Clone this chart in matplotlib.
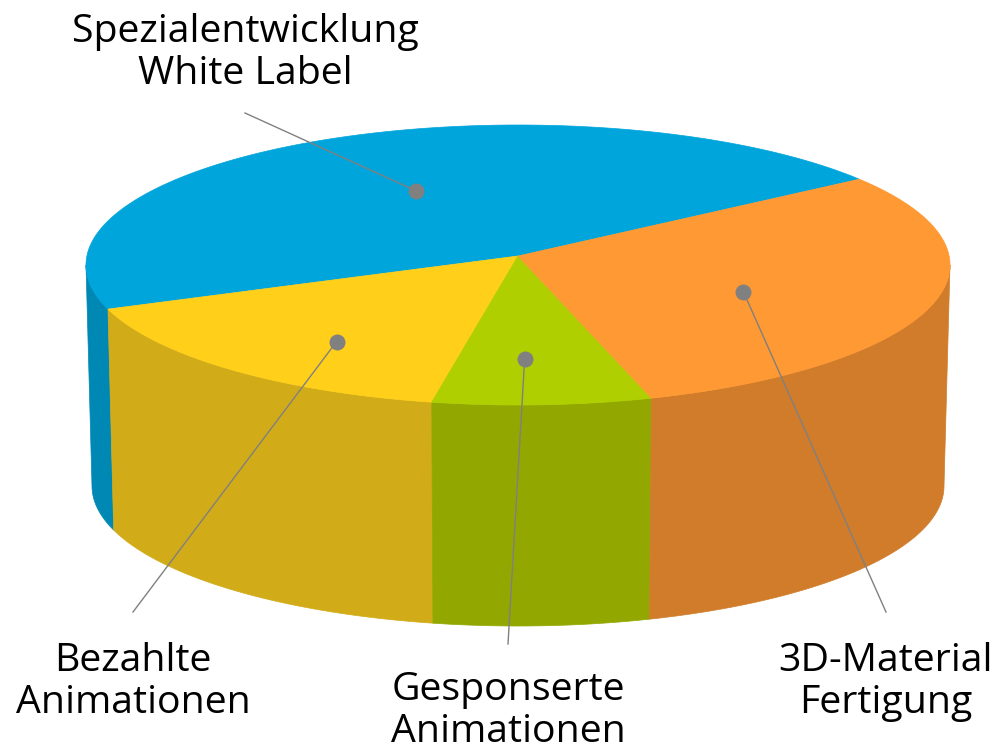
import numpy as np
import matplotlib.pyplot as plt

# Share of each slice, going counter-clockwise from the start angle
labels = ["Spezialentwicklung\nWhite Label", "Bezahlte\nAnimationen",
          "Gesponserte\nAnimationen", "3D-Material\nFertigung"]
values = [44.6, 16.7, 8.2, 30.5]

top_colors = ["#00A5DC", "#FFCF1A", "#AFCF00", "#FF9933"]
side_colors = ["#0088B5", "#D2AB18", "#92A800", "#D07C2A"]

# Where the dots sit on the top face (angle in degrees, fraction of radius)
dot_angle = [114, 232.5, 271.3, 340]
dot_radius = [0.58, 0.69, 0.675, 0.555]
# Free end of each leader line and centre of each label, in pixels
line_end = [(245, 113), (133, 612), (508, 644), (886, 612)]
label_pos = [(245, 53), (133, 682), (508, 711), (886, 682)]

start_angle = 37.8

# Disc geometry in pixels
TOP = (518, 265, 432, 140)
BOTTOM = (518, 486, 426, 140)
APEX = (518, 256)


def arc(ellipse, a0, a1):
    cx, cy, rx, ry = ellipse
    t = np.radians(np.linspace(a0, a1, 200))
    return cx + rx * np.cos(t), cy - ry * np.sin(t)


fig = plt.figure(figsize=(9.96, 7.53), dpi=100)
ax = fig.add_axes([0, 0, 1, 1])
ax.set_xlim(0, 996)
ax.set_ylim(753, 0)
ax.axis("off")

edges = start_angle + np.cumsum([0] + values) * 360 / sum(values)

# Sides first, only the front half of the disc can be seen
for i in range(len(values)):
    a0 = max(edges[i], 180)
    a1 = min(edges[i + 1], 360)
    if a1 <= a0:
        continue
    xt, yt = arc(TOP, a0, a1)
    xb, yb = arc(BOTTOM, a0, a1)
    ax.fill(np.r_[xt, xb[::-1]], np.r_[yt, yb[::-1]], color=side_colors[i], lw=0.5, zorder=1)

# Top face
for i in range(len(values)):
    x, y = arc(TOP, edges[i], edges[i + 1])
    ax.fill(np.r_[APEX[0], x], np.r_[APEX[1], y], color=top_colors[i], lw=0.5, zorder=2)

# Leader lines, dots and labels
for i in range(len(labels)):
    t = np.radians(dot_angle[i])
    dx = TOP[0] + TOP[2] * dot_radius[i] * np.cos(t)
    dy = TOP[1] - TOP[3] * dot_radius[i] * np.sin(t)
    ax.plot([dx, line_end[i][0]], [dy, line_end[i][1]], color="#808080", lw=1, zorder=3)
    ax.plot(dx, dy, "o", color="#808080", ms=11.5, mew=0, zorder=4)
    ax.text(label_pos[i][0], label_pos[i][1], labels[i], ha="center", va="center",
            fontsize=28.3, family="Open Sans", color="black", linespacing=1.17)

fig.savefig("out.png", dpi=100)
